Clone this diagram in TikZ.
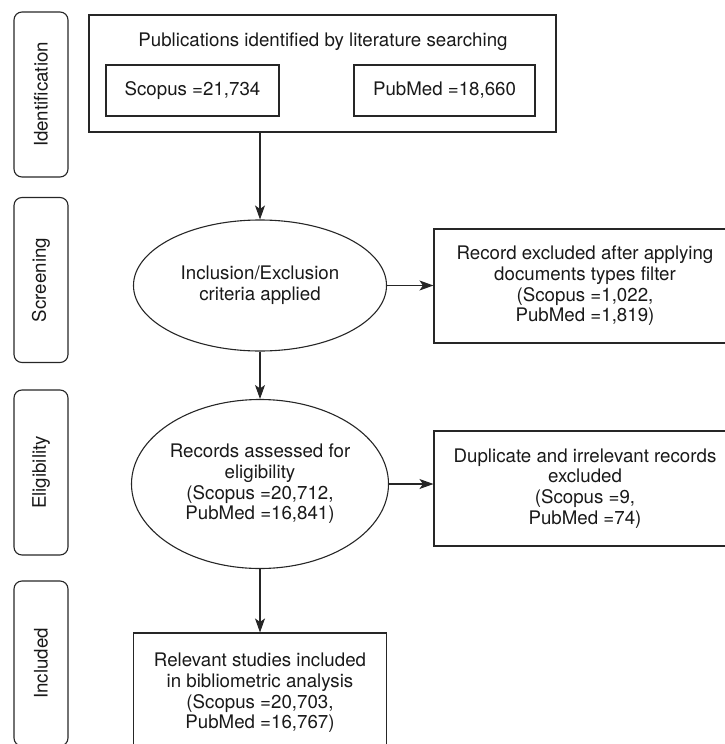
\documentclass[tikz,border=0pt]{standalone}
\usepackage{fontspec}
\setmainfont{TeX Gyre Heros}
\usepackage{xcolor}
\usepackage{tikz}
\usetikzlibrary{shapes,arrows.meta,positioning}

\begin{document}
\begin{tikzpicture}[x=1pt,y=-1pt,
        every node/.style={font=\fontsize{18.7}{20.7}\selectfont, text=black!90},
        stagebox/.style={draw=black!85, line width=1.1pt, rounded corners=8pt, rotate=90, minimum width=165pt, minimum height=54pt},
        flowbox/.style={draw=black!85, line width=1.1pt, align=center, inner sep=0pt},
        flowellipse/.style={draw=black!85, line width=1.1pt, ellipse, align=center, inner sep=0pt},
        flowarrow/.style={draw=black!85, line width=1.1pt, -{Stealth[length=14pt,width=10pt,inset=3.5pt]}}]
        \useasboundingbox (0,0) rectangle (725,744);

        % stages on the left
        \node[stagebox] (identification) at (41,94.5) {Identification};
        \node[stagebox] (screening) at (41,280) {Screening};
        \node[stagebox] (eligibility) at (41,472.5) {Eligibility};
        \node[stagebox] (included) at (41,663.5) {Included};

        % literature search
        \node[flowbox, minimum width=467pt, minimum height=117pt] (search) at (322.5,73.5) {};
        \node (searchtitle) at (323,42) {Publications identified by literature searching};
        \node[flowbox, minimum width=173pt, minimum height=51pt] (scopus) at (192.5,90.5) {Scopus =21,734};
        \node[flowbox, minimum width=181pt, minimum height=51pt] (pubmed) at (444.5,90.5) {PubMed =18,660};

        % main flow
        \node[flowellipse, minimum width=253pt, minimum height=131pt] (criteria) at (260,285.5) {Inclusion/Exclusion\\criteria applied};
        \node[flowellipse, minimum width=257pt, minimum height=169pt] (assessed) at (260,484) {Records assessed for\\eligibility\\(Scopus =20,712,\\PubMed =16,841)};
        \node[flowbox, minimum width=253pt, minimum height=120pt] (relevant) at (260,693) {Relevant studies included\\in bibliometric analysis\\(Scopus =20,703,\\PubMed =16,767)};

        % exclusions
        \node[flowbox, minimum width=302pt, minimum height=114pt] (docfilter) at (585,286) {Record excluded after applying\\documents types filter\\(Scopus =1,022,\\PubMed =1,819)};
        \node[flowbox, minimum width=302pt, minimum height=115pt] (duplicates) at (585,488.5) {Duplicate and irrelevant records\\excluded\\(Scopus =9,\\PubMed =74)};

        \draw[flowarrow] (criteria.north |- search.south) -- (criteria.north);
        \draw[flowarrow] (criteria.east) -- (criteria.east -| docfilter.west);
        \draw[flowarrow] (criteria.south) -- (assessed.north);
        \draw[flowarrow] (assessed.east) -- (assessed.east -| duplicates.west);
        \draw[flowarrow] (assessed.south) -- (relevant.north);
    \end{tikzpicture}
\end{document}
